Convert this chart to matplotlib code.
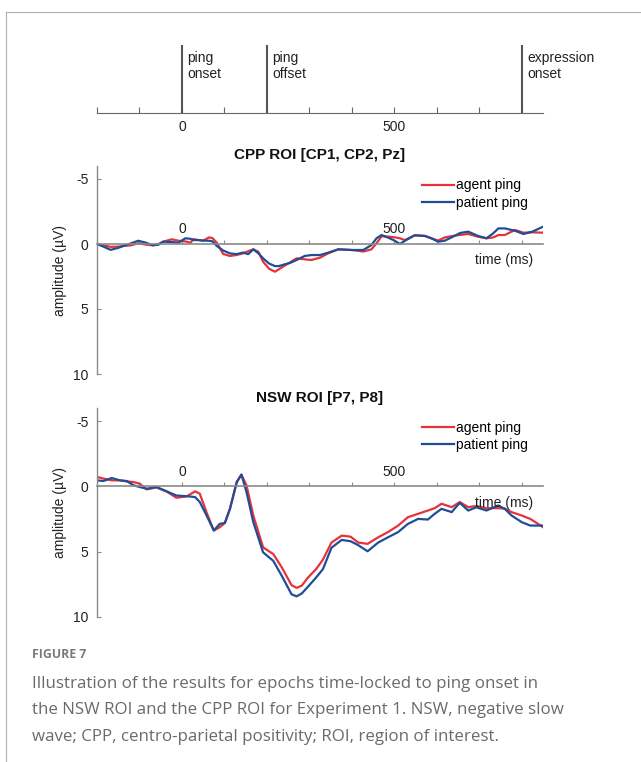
import matplotlib
matplotlib.use("Agg")
import matplotlib.pyplot as plt
from matplotlib import transforms

plt.rcParams['font.family'] = ['Liberation Sans', 'DejaVu Sans']
plt.rcParams['axes.unicode_minus'] = False

# event markers on the timeline (ms)
events = [0, 200, 800]
eventNames = ["ping\nonset", "ping\noffset", "expression\nonset"]

# CPP ROI, amplitude in microvolt
cppTime = [-200, -185, -168, -150, -138, -120, -103, -85, -68, -55, -44, -24, -8, 8, 20, 27,
           40, 50, 64, 72, 82, 97, 113, 128, 144, 156, 168, 180, 191, 205, 219, 228, 238, 255,
           270, 289, 305, 325, 344, 368, 399, 427, 446, 458, 470, 489, 501, 513, 525, 548, 572,
           587, 603, 619, 638, 655, 674, 697, 717, 732, 745, 760, 784, 804, 825, 850]
cppAgent = [0.05, 0.1, 0.22, 0.2, 0.15, 0.1, -0.05, 0.05, 0.1, 0.0, -0.18, -0.36, -0.25, -0.2,
            -0.1, -0.38, -0.3, -0.26, -0.51, -0.45, -0.1, 0.77, 0.92, 0.85, 0.72, 0.55, 0.41, 0.6,
            1.36, 1.9, 2.13, 1.95, 1.74, 1.4, 1.1, 1.18, 1.23, 1.05, 0.72, 0.41, 0.46, 0.58, 0.41,
            -0.05, -0.6, -0.56, -0.51, -0.44, -0.3, -0.67, -0.62, -0.44, -0.26, -0.51, -0.62,
            -0.7, -0.77, -0.56, -0.44, -0.5, -0.69, -0.69, -1.08, -0.87, -0.9, -0.87]
cppPatient = [0.0, 0.2, 0.45, 0.3, 0.15, -0.05, -0.25, -0.1, 0.1, 0.05, -0.18, -0.15, -0.1,
              -0.44, -0.4, -0.3, -0.3, -0.26, -0.25, -0.2, 0.15, 0.5, 0.72, 0.78, 0.66, 0.78,
              0.41, 0.72, 1.1, 1.5, 1.7, 1.7, 1.6, 1.45, 1.23, 0.92, 0.85, 0.85, 0.67, 0.41, 0.46,
              0.46, 0.08, -0.44, -0.69, -0.44, -0.25, 0.0, -0.25, -0.67, -0.62, -0.44, -0.18,
              -0.26, -0.56, -0.85, -0.95, -0.62, -0.44, -0.8, -1.2, -1.2, -1.02, -0.77, -0.95, -1.33]

# NSW ROI, amplitude in microvolt
nswTime = [-200, -185, -165, -146, -130, -114, -99, -83, -60, -36, -13, 11, 31, 42, 58, 75, 89,
           101, 113, 129, 140, 152, 168, 191, 215, 235, 258, 270, 282, 297, 316, 332, 352, 376,
           397, 415, 437, 462, 485, 509, 532, 556, 579, 595, 611, 635, 654, 674, 693, 717, 744,
           760, 776, 800, 820, 835, 850]
nswAgent = [-0.72, -0.6, -0.46, -0.46, -0.38, -0.33, -0.2, 0.23, 0.08, 0.4, 0.87, 0.77, 0.38,
            0.56, 2.0, 3.38, 3.13, 2.8, 1.72, -0.33, -0.9, -0.08, 2.23, 4.67, 5.18, 6.2, 7.56,
            7.77, 7.6, 6.97, 6.33, 5.6, 4.3, 3.77, 3.85, 4.3, 4.4, 3.9, 3.5, 3.0, 2.36, 2.1, 1.85,
            1.67, 1.33, 1.59, 1.2, 1.59, 1.5, 1.67, 1.67, 1.7, 1.97, 2.23, 2.49, 2.8, 3.13]
nswPatient = [-0.46, -0.41, -0.64, -0.46, -0.41, -0.08, 0.05, 0.18, 0.05, 0.38, 0.7, 0.75, 0.82,
              1.2, 2.23, 3.38, 2.87, 2.8, 1.72, -0.33, -0.9, 0.44, 2.74, 5.05, 5.7, 6.85, 8.26,
              8.42, 8.2, 7.67, 6.97, 6.33, 4.7, 4.1, 4.2, 4.5, 4.97, 4.3, 3.9, 3.5, 2.87, 2.49,
              2.54, 2.1, 1.72, 1.97, 1.26, 1.85, 1.6, 1.85, 1.46, 1.72, 2.23, 2.74, 3.0, 3.0, 3.0]

W, H = 641, 762
RED = "#e8323a"
BLUE = "#1f4e96"
GREY = "#8a8a8a"
TXT = "#222222"
FS = 10


def box(left, top, right, bottom):
    return [left / W, 1 - bottom / H, (right - left) / W, (bottom - top) / H]


fig = plt.figure(figsize=(W / 100, H / 100), dpi=100)

# page frame
fig.add_artist(plt.Line2D([6 / W, 1], [1 - 12 / H, 1 - 12 / H], color="#b0b0b0", lw=0.8))
fig.add_artist(plt.Line2D([6 / W, 6 / W], [0, 1 - 12 / H], color="#b0b0b0", lw=0.8))

# timeline panel
axT = fig.add_axes(box(97, 45, 543, 113))
axT.set_xlim(-200, 850)
axT.set_ylim(0, 1)
for s in ["top", "right", "left"]:
    axT.spines[s].set_visible(False)
axT.spines["bottom"].set_color("#666666")
axT.set_yticks([])
axT.set_xticks(range(-200, 851, 100))
axT.set_xticklabels([str(v) if v in (0, 500) else "" for v in range(-200, 851, 100)])
axT.tick_params(axis="x", direction="in", length=4, width=0.8, color="#666666",
                labelsize=FS, labelcolor=TXT, pad=5)
axT.vlines(events, 0, 1, color="#555555", lw=1.5)
for e, name in zip(events, eventNames):
    axT.text(e + 13, 0.91, name, ha="left", va="top", fontsize=FS, color=TXT, linespacing=1.2)


def erpPanel(rect, title, titleY, t, agent, patient):
    ax = fig.add_axes(rect)
    ax.plot(t, agent, color=RED, lw=1.6, label="agent ping")
    ax.plot(t, patient, color=BLUE, lw=1.6, label="patient ping")
    ax.set_xlim(-200, 850)
    ax.set_ylim(10, -6)
    ax.spines["right"].set_visible(False)
    ax.spines["bottom"].set_visible(False)
    ax.spines["top"].set_position(("data", 0))
    ax.spines["top"].set_color(GREY)
    ax.spines["top"].set_linewidth(1.2)
    ax.spines["left"].set_color(GREY)
    ax.spines["left"].set_linewidth(1.0)
    ax.xaxis.set_ticks_position("top")
    ax.set_xticks(range(-200, 851, 100))
    ax.set_xticklabels([str(v) if v in (0, 500) else "" for v in range(-200, 851, 100)])
    ax.tick_params(axis="x", direction="out", length=3, width=0.8, color=GREY,
                   labelsize=FS, labelcolor=TXT, pad=2.5)
    ax.set_yticks([-5, 0, 5, 10])
    ax.tick_params(axis="y", direction="in", length=3, width=0.8, color=GREY,
                   labelsize=FS, labelcolor=TXT, pad=6)
    trans = transforms.blended_transform_factory(ax.transAxes, ax.transData)
    ax.text(0.847, 1.25, "time (ms)", transform=trans, ha="left", va="center",
            fontsize=FS, color=TXT)
    ax.legend(loc="upper left", bbox_to_anchor=(0.728, 0.94), frameon=False, fontsize=FS,
              handlelength=2.3, handletextpad=0.15, borderpad=0, borderaxespad=0,
              labelspacing=0.25)
    fig.text(320 / W, 1 - titleY / H, title, ha="center", va="center", fontsize=11,
             fontweight="bold", color="#111111")
    return ax


erpPanel(box(97, 166, 543, 374), "CPP ROI [CP1, CP2, Pz]", 155, cppTime, cppAgent, cppPatient)
erpPanel(box(97, 408, 543, 617), "NSW ROI [P7, P8]", 398, nswTime, nswAgent, nswPatient)

for yc in (270, 512):
    fig.text(60 / W, 1 - yc / H, "amplitude (µV)", rotation=90, ha="center", va="center",
             fontsize=FS, color=TXT)

# caption
fig.text(32 / W, 1 - 655 / H, "FIGURE 7", ha="left", va="center", fontsize=8.8,
         fontweight="bold", color="#7a7a7a", family=["Open Sans", "DejaVu Sans"])
captionLines = [
    "Illustration of the results for epochs time-locked to ping onset in",
    "the NSW ROI and the CPP ROI for Experiment 1. NSW, negative slow",
    "wave; CPP, centro-parietal positivity; ROI, region of interest.",
]
for i, line in enumerate(captionLines):
    fig.text(32 / W, 1 - (684 + 26.5 * i) / H, line, ha="left", va="center", fontsize=12.2,
             color="#6a6a6a", family=["Open Sans", "DejaVu Sans"])

fig.savefig("out.png", dpi=100)
